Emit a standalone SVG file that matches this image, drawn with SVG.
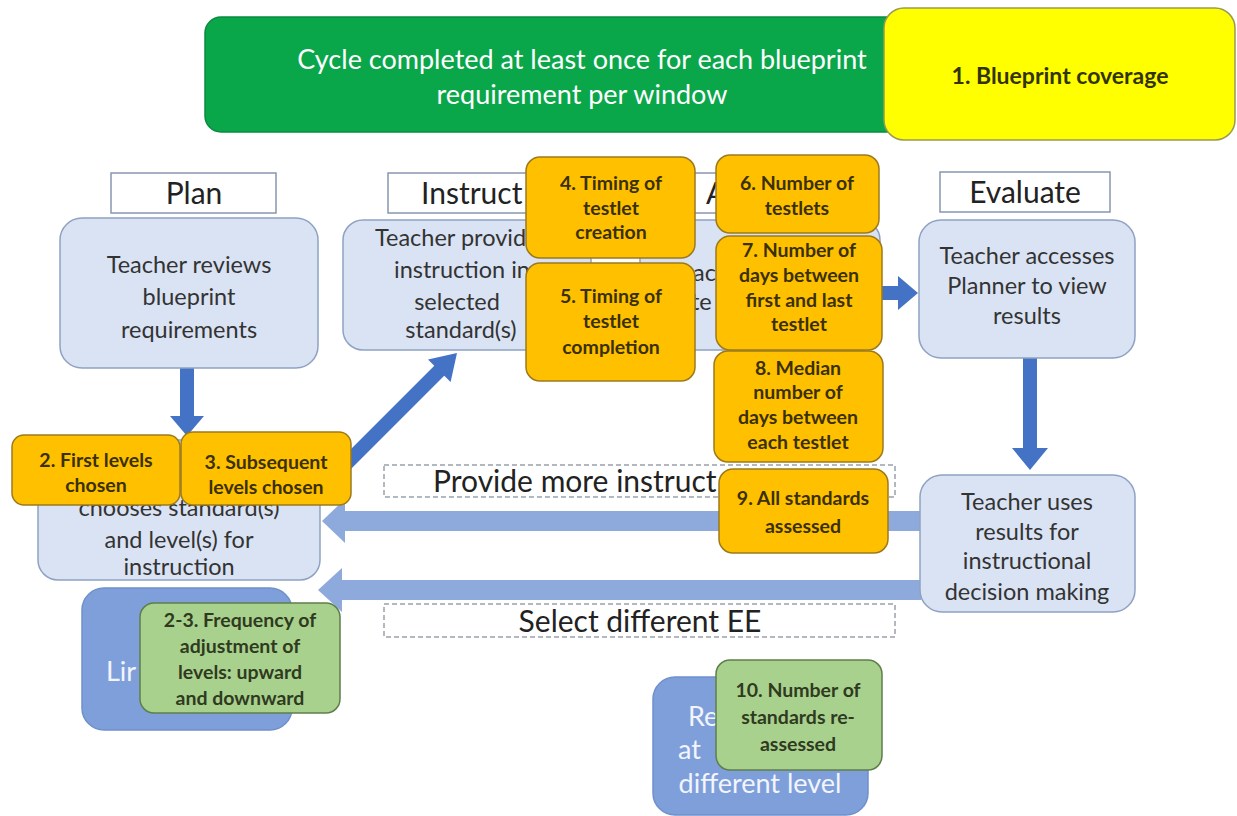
<svg xmlns="http://www.w3.org/2000/svg" width="1237" height="816" viewBox="0 0 1237 816">
<style>
text{font-family:Lato,"Open Sans","Liberation Sans",sans-serif;text-anchor:middle}
.lbl{fill:#fff;stroke:#8896b0;stroke-width:1.5}
.lbt{font-size:30px;fill:#222}
.lb{fill:#dae3f3;stroke:#8fa2c4;stroke-width:1.5}
.lbx{font-size:23.5px;fill:#333}
.or{fill:#ffc000;stroke:#9c7a1c;stroke-width:1.5}
.ort{font-size:19.5px;fill:#3a3000;font-weight:bold}
.gr{fill:#a9d18e;stroke:#5f7f4a;stroke-width:1.5}
.grt{font-size:19.5px;fill:#2f3a1f;font-weight:bold}
.db{fill:#7f9fdb;stroke:#7090cc;stroke-width:1.5}
.dbt{font-size:27px;fill:#f2f5fb}
.dash{fill:none;stroke:#9aa0aa;stroke-width:1.5;stroke-dasharray:5 3}
.dk{fill:#4472c4}
.lt{fill:#8eaadc}
.st{text-anchor:start}
</style>

<g id="banner">
<rect x="205" y="17" width="760" height="115" rx="16" fill="#0aa64a" stroke="#0a8a40" stroke-width="1.5"/>
<text x="582" y="69" font-size="27" fill="#fff">Cycle completed at least once for each blueprint</text>
<text x="582" y="104" font-size="27" fill="#fff">requirement per window</text>
</g>
<g id="blueprint-coverage">
<rect x="884" y="8" width="351" height="132" rx="20" fill="#ffff00" stroke="#9a9a50" stroke-width="1.5"/>
<text x="1060" y="84" font-size="23" fill="#333300" font-weight="bold">1. Blueprint coverage</text>
</g>

<g id="connectors">
<rect class="dk" x="180" y="368" width="14" height="50"/>
<polygon class="dk" points="170,416 204,416 187,436"/>
<line x1="343" y1="467" x2="441" y2="369" stroke="#4472c4" stroke-width="14"/>
<polygon class="dk" points="457,353 450.6,382 428,359.4"/>
<rect class="dk" x="880" y="286" width="20" height="14"/>
<polygon class="dk" points="898,276 898,310 918,293"/>
<rect class="dk" x="1023" y="358" width="14" height="92"/>
<polygon class="dk" points="1012,448 1048,448 1030,470"/>
<rect class="lt" x="343" y="511" width="578" height="20"/>
<polygon class="lt" points="345,499 345,543 322,521"/>
<rect class="lt" x="340" y="580" width="581" height="20"/>
<polygon class="lt" points="342,568 342,612 318,590"/>
</g>

<g id="plan-label"><rect class="lbl" x="111" y="173" width="165" height="40"/><text class="lbt" x="194" y="204">Plan</text></g>
<g id="instruct-label"><rect class="lbl" x="388" y="173" width="180" height="40"/><text class="lbt st" x="421" y="204">Instruct</text></g>
<g id="assess-label"><rect class="lbl" x="660" y="173" width="200" height="40"/><text class="lbt st" x="706" y="204">A</text></g>
<g id="evaluate-label"><rect class="lbl" x="940" y="172" width="170" height="40"/><text class="lbt" x="1025" y="203">Evaluate</text></g>

<g id="plan-box"><rect class="lb" x="60" y="218" width="258" height="150" rx="22"/>
<text class="lbx" x="189" y="273">Teacher reviews</text><text class="lbx" x="189" y="305">blueprint</text><text class="lbx" x="189" y="338">requirements</text></g>

<g id="instruct-box"><rect class="lb" x="343" y="220" width="248" height="130" rx="20"/>
<text class="lbx st" x="375" y="246">Teacher provid</text><text class="lbx st" x="394" y="278">instruction in</text><text class="lbx" x="457" y="310">selected</text><text class="lbx" x="461" y="338">standard(s)</text></g>

<g id="assess-box"><rect class="lb" x="640" y="220" width="240" height="130" rx="20"/>
<text class="lbx st" x="693" y="281">ac</text><text class="lbx st" x="691" y="310">te</text></g>

<g id="evaluate-box"><rect class="lb" x="919" y="220" width="216" height="138" rx="22"/>
<text class="lbx" x="1027" y="264">Teacher accesses</text><text class="lbx" x="1027" y="294">Planner to view</text><text class="lbx" x="1027" y="324">results</text></g>

<g id="decision-box"><rect class="lb" x="920" y="475" width="215" height="137" rx="22"/>
<text class="lbx" x="1027" y="510">Teacher uses</text><text class="lbx" x="1027" y="540">results for</text><text class="lbx" x="1027" y="569">instructional</text><text class="lbx" x="1027" y="600">decision making</text></g>

<g id="choose-box"><rect class="lb" x="38" y="440" width="282" height="140" rx="20"/>
<text class="lbx" x="179" y="516">chooses standard(s)</text><text class="lbx" x="179" y="548">and level(s) for</text><text class="lbx" x="179" y="575">instruction</text></g>

<g id="provide-more-label"><rect class="dash" x="384" y="465" width="511" height="32"/><text class="lbt st" x="433" y="492">Provide more instruct</text></g>
<g id="select-ee-label"><rect class="dash" x="384" y="604" width="511" height="33"/><text class="lbt" x="640" y="632">Select different EE</text></g>

<g id="m4"><rect class="or" x="526" y="157" width="169" height="101" rx="14"/><text class="ort" x="611" y="190">4. Timing of</text><text class="ort" x="611" y="215">testlet</text><text class="ort" x="611" y="239">creation</text></g>
<g id="m5"><rect class="or" x="526" y="263" width="169" height="118" rx="14"/><text class="ort" x="611" y="303">5. Timing of</text><text class="ort" x="611" y="328">testlet</text><text class="ort" x="611" y="354">completion</text></g>
<g id="m6"><rect class="or" x="716" y="155" width="163" height="78" rx="14"/><text class="ort" x="797" y="190">6. Number of</text><text class="ort" x="797" y="215">testlets</text></g>
<g id="m7"><rect class="or" x="716" y="236" width="166" height="114" rx="14"/><text class="ort" x="799" y="257">7. Number of</text><text class="ort" x="799" y="282">days between</text><text class="ort" x="799" y="307">first and last</text><text class="ort" x="799" y="331">testlet</text></g>
<g id="m8"><rect class="or" x="714" y="351" width="169" height="111" rx="14"/><text class="ort" x="798" y="375">8. Median</text><text class="ort" x="798" y="399">number of</text><text class="ort" x="798" y="424">days between</text><text class="ort" x="798" y="449">each testlet</text></g>
<g id="m9"><rect class="or" x="719" y="469" width="169" height="84" rx="14"/><text class="ort" x="803" y="505">9. All standards</text><text class="ort" x="803" y="533">assessed</text></g>
<g id="m2"><rect class="or" x="12" y="435" width="168" height="70" rx="12"/><text class="ort" x="96" y="467">2. First levels</text><text class="ort" x="96" y="492">chosen</text></g>
<g id="m3"><rect class="or" x="181" y="432" width="170" height="73" rx="12"/><text class="ort" x="266" y="469">3. Subsequent</text><text class="ort" x="266" y="494">levels chosen</text></g>

<g id="limit-box"><rect class="db" x="82" y="588" width="210" height="142" rx="22"/><text class="dbt st" x="106" y="681">Lir</text></g>
<g id="m23"><rect class="gr" x="140" y="603" width="200" height="110" rx="14"/><text class="grt" x="240" y="627">2-3. Frequency of</text><text class="grt" x="240" y="653">adjustment of</text><text class="grt" x="240" y="679">levels: upward</text><text class="grt" x="240" y="705">and downward</text></g>

<g id="reassess-box"><rect class="db" x="653" y="677" width="215" height="138" rx="22"/><text class="dbt st" x="688" y="726">Re</text><text class="dbt st" x="678" y="759">at</text><text class="dbt" x="760" y="793">different level</text></g>
<g id="m10"><rect class="gr" x="716" y="660" width="166" height="110" rx="14"/><text class="grt" x="798" y="697">10. Number of</text><text class="grt" x="798" y="724">standards re-</text><text class="grt" x="798" y="751">assessed</text></g>
</svg>
